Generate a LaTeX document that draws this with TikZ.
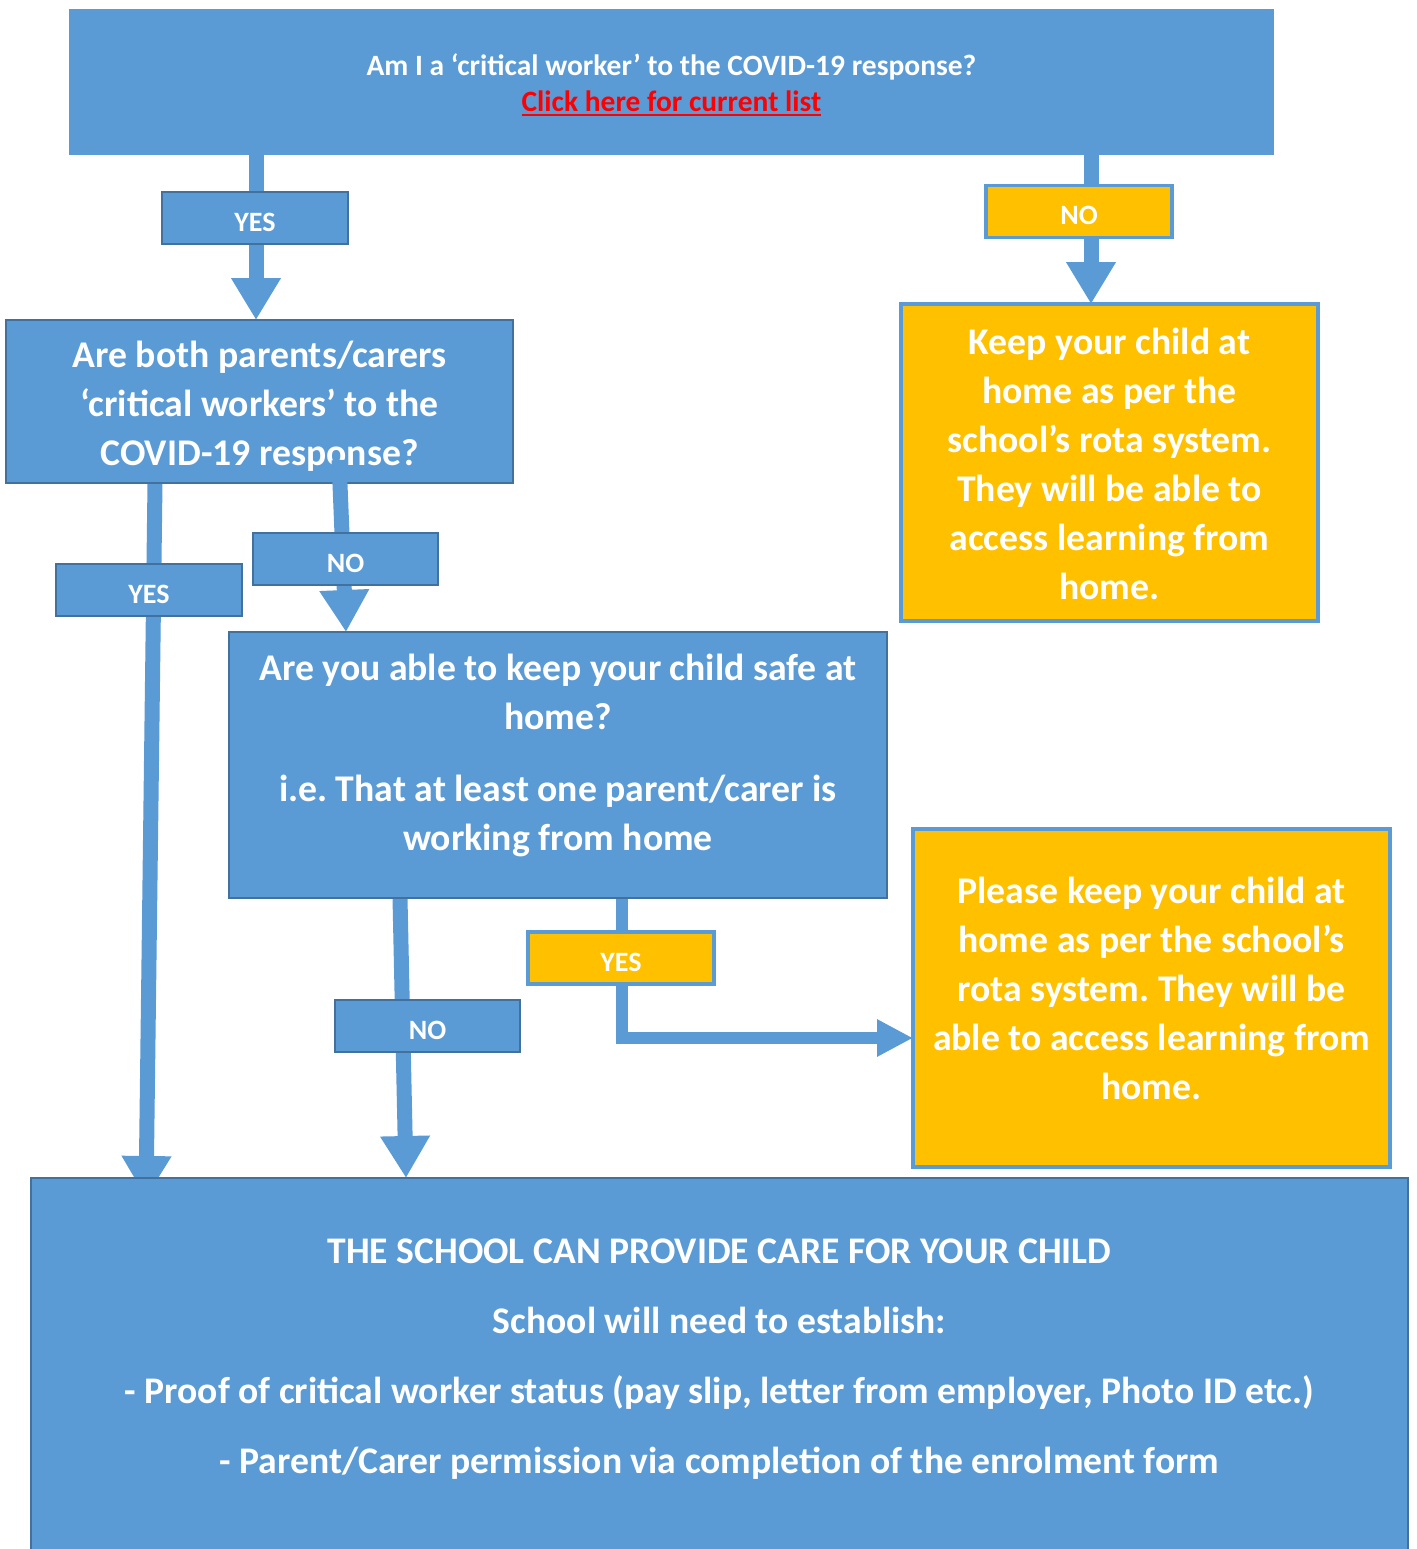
\documentclass[tikz,border=0pt]{standalone}
\usepackage{fontspec}
\setmainfont{Carlito}
\usetikzlibrary{arrows.meta,calc}
\definecolor{cblue}{HTML}{5B9BD5}
\definecolor{cdark}{HTML}{41719C}
\definecolor{cyel}{HTML}{FFC000}
\definecolor{cred}{HTML}{FF0000}
\pgfdeclarelayer{bg}
\pgfsetlayers{bg,main}
\frenchspacing
\newcommand{\redul}[1]{\setbox0=\hbox{#1}\leavevmode\rlap{\rule[-5pt]{\wd0}{2.3pt}}\box0}
\newcommand{\bigtxt}{\fontsize{37.7}{49}\selectfont\bfseries}
\newcommand{\labtxt}{\fontsize{28}{32}\selectfont\bfseries}
\begin{document}
\begin{tikzpicture}[x=1pt,y=-1pt,
  box/.style={rectangle, inner sep=0pt, outer sep=0pt, align=center, text=white},
  bluebox/.style={box, fill=cblue, draw=cdark, line width=2.5pt},
  yelbox/.style={box, fill=cyel, draw=cblue, line width=3.5pt},
  bluelab/.style={bluebox, minimum width=186pt, minimum height=52pt, font=\labtxt, text height=26pt, text depth=0pt},
  yellab/.style={yelbox, minimum width=186pt, minimum height=52pt, font=\labtxt, text height=26pt, text depth=0pt},
  txt/.style={inner sep=0pt, align=center, text=white},
  conn/.style={color=cblue, line width=15pt, line join=miter, -{Triangle[width=47pt,length=42pt]}},
  connsmall/.style={color=cblue, line width=12pt, line join=miter, -{Triangle[width=35pt,length=36pt]}}
]
\useasboundingbox (0,0) rectangle (1416,1549);
\begin{pgfonlayer}{bg}
\fill[white] (0,0) rectangle (1416,1549);
\end{pgfonlayer}

% main boxes
\node[box, fill=cblue, minimum width=1205pt, minimum height=146pt] (top) at (671.5,82) {};
\node[txt, font=\fontsize{29.5}{36}\selectfont\bfseries] (topt) at (671.5,85)
  {Am I a ‘critical worker’ to the COVID-19 response?\\
   {\color{cred}\redul{Click here for current list}}};

\node[bluebox, minimum width=507pt, minimum height=163pt] (b2) at (259.5,401.5) {};
\node[txt, font=\bigtxt] (b2t) at (259.5,406.5)
  {Are both parents/carers\\ ‘critical workers’ to the\\ COVID-19 response?};

\node[yelbox, minimum width=417pt, minimum height=317pt] (keep) at (1109.5,462.5) {};
\node[txt, font=\bigtxt] (keept) at (1109.5,464)
  {Keep your child at\\ home as per the\\ school’s rota system.\\ They will be able to\\ access learning from\\ home.};

\node[bluebox, minimum width=658pt, minimum height=266pt] (b3) at (558,765) {};
\node[txt, font=\bigtxt] (b3t) at (558,755.5)
  {Are you able to keep your child safe at\\ home?\\[23pt] i.e. That at least one parent/carer is\\ working from home};

\node[yelbox, minimum width=477pt, minimum height=338pt] (b4) at (1151.5,998) {};
\node[txt, font=\bigtxt] (b4t) at (1151.5,988)
  {Please keep your child at\\ home as per the school’s\\ rota system. They will be\\ able to access learning from\\ home.};

\node[bluebox, minimum width=1377pt, minimum height=392pt] (b5) at (719.5,1374) {};
\node[txt, font=\fontsize{37.6}{70}\selectfont\bfseries] (b5t) at (719.5,1359)
  {THE SCHOOL CAN PROVIDE CARE FOR YOUR CHILD\\
   School will need to establish:\\
   - Proof of critical worker status (pay slip, letter from employer, Photo ID etc.)\\
   - Parent/Carer permission via completion of the enrolment form};

% connectors
\coordinate (s1) at ($(top.south west)+(187,0)$);
\coordinate (s2) at ($(top.south west)+(1022,0)$);
\coordinate (s3) at ($(b2.south west)+(149,0)$);
\coordinate (e3) at ($(b5.north west)+(115,20)$);
\coordinate (s4) at ($(b2.south west)+(333,-23)$);
\coordinate (e4) at ($(b3.north west)+(117,0)$);
\coordinate (s5) at ($(b3.south west)+(171,0)$);
\coordinate (e5) at ($(b5.north west)+(375,0)$);
\coordinate (s6) at ($(b3.south west)+(393,0)$);
\coordinate (e6) at ($(b4.south west)+(0,-129)$);
\begin{pgfonlayer}{bg}
\draw[conn] (s1) -- (s1 |- b2.north);
\draw[conn] (s2) -- (s2 |- keep.north);
\draw[conn] (s3) -- (e3);
\draw[conn] (s5) -- (e5);
\draw[connsmall] (s6) |- (e6);
\end{pgfonlayer}
\draw[conn] (s4) -- (e4);

% labels
\node[bluelab] (yes1) at (255,218) {YES};
\node[yellab] (no1) at (1079,211.5) {NO};
\node[bluelab] (yes2) at (149,590) {YES};
\node[bluelab, minimum width=185pt] (no2) at (345.5,559) {NO};
\node[yellab] (yes3) at (621,958) {YES};
\node[bluelab, minimum width=185pt] (no3) at (427.5,1026) {NO};
\end{tikzpicture}
\end{document}
